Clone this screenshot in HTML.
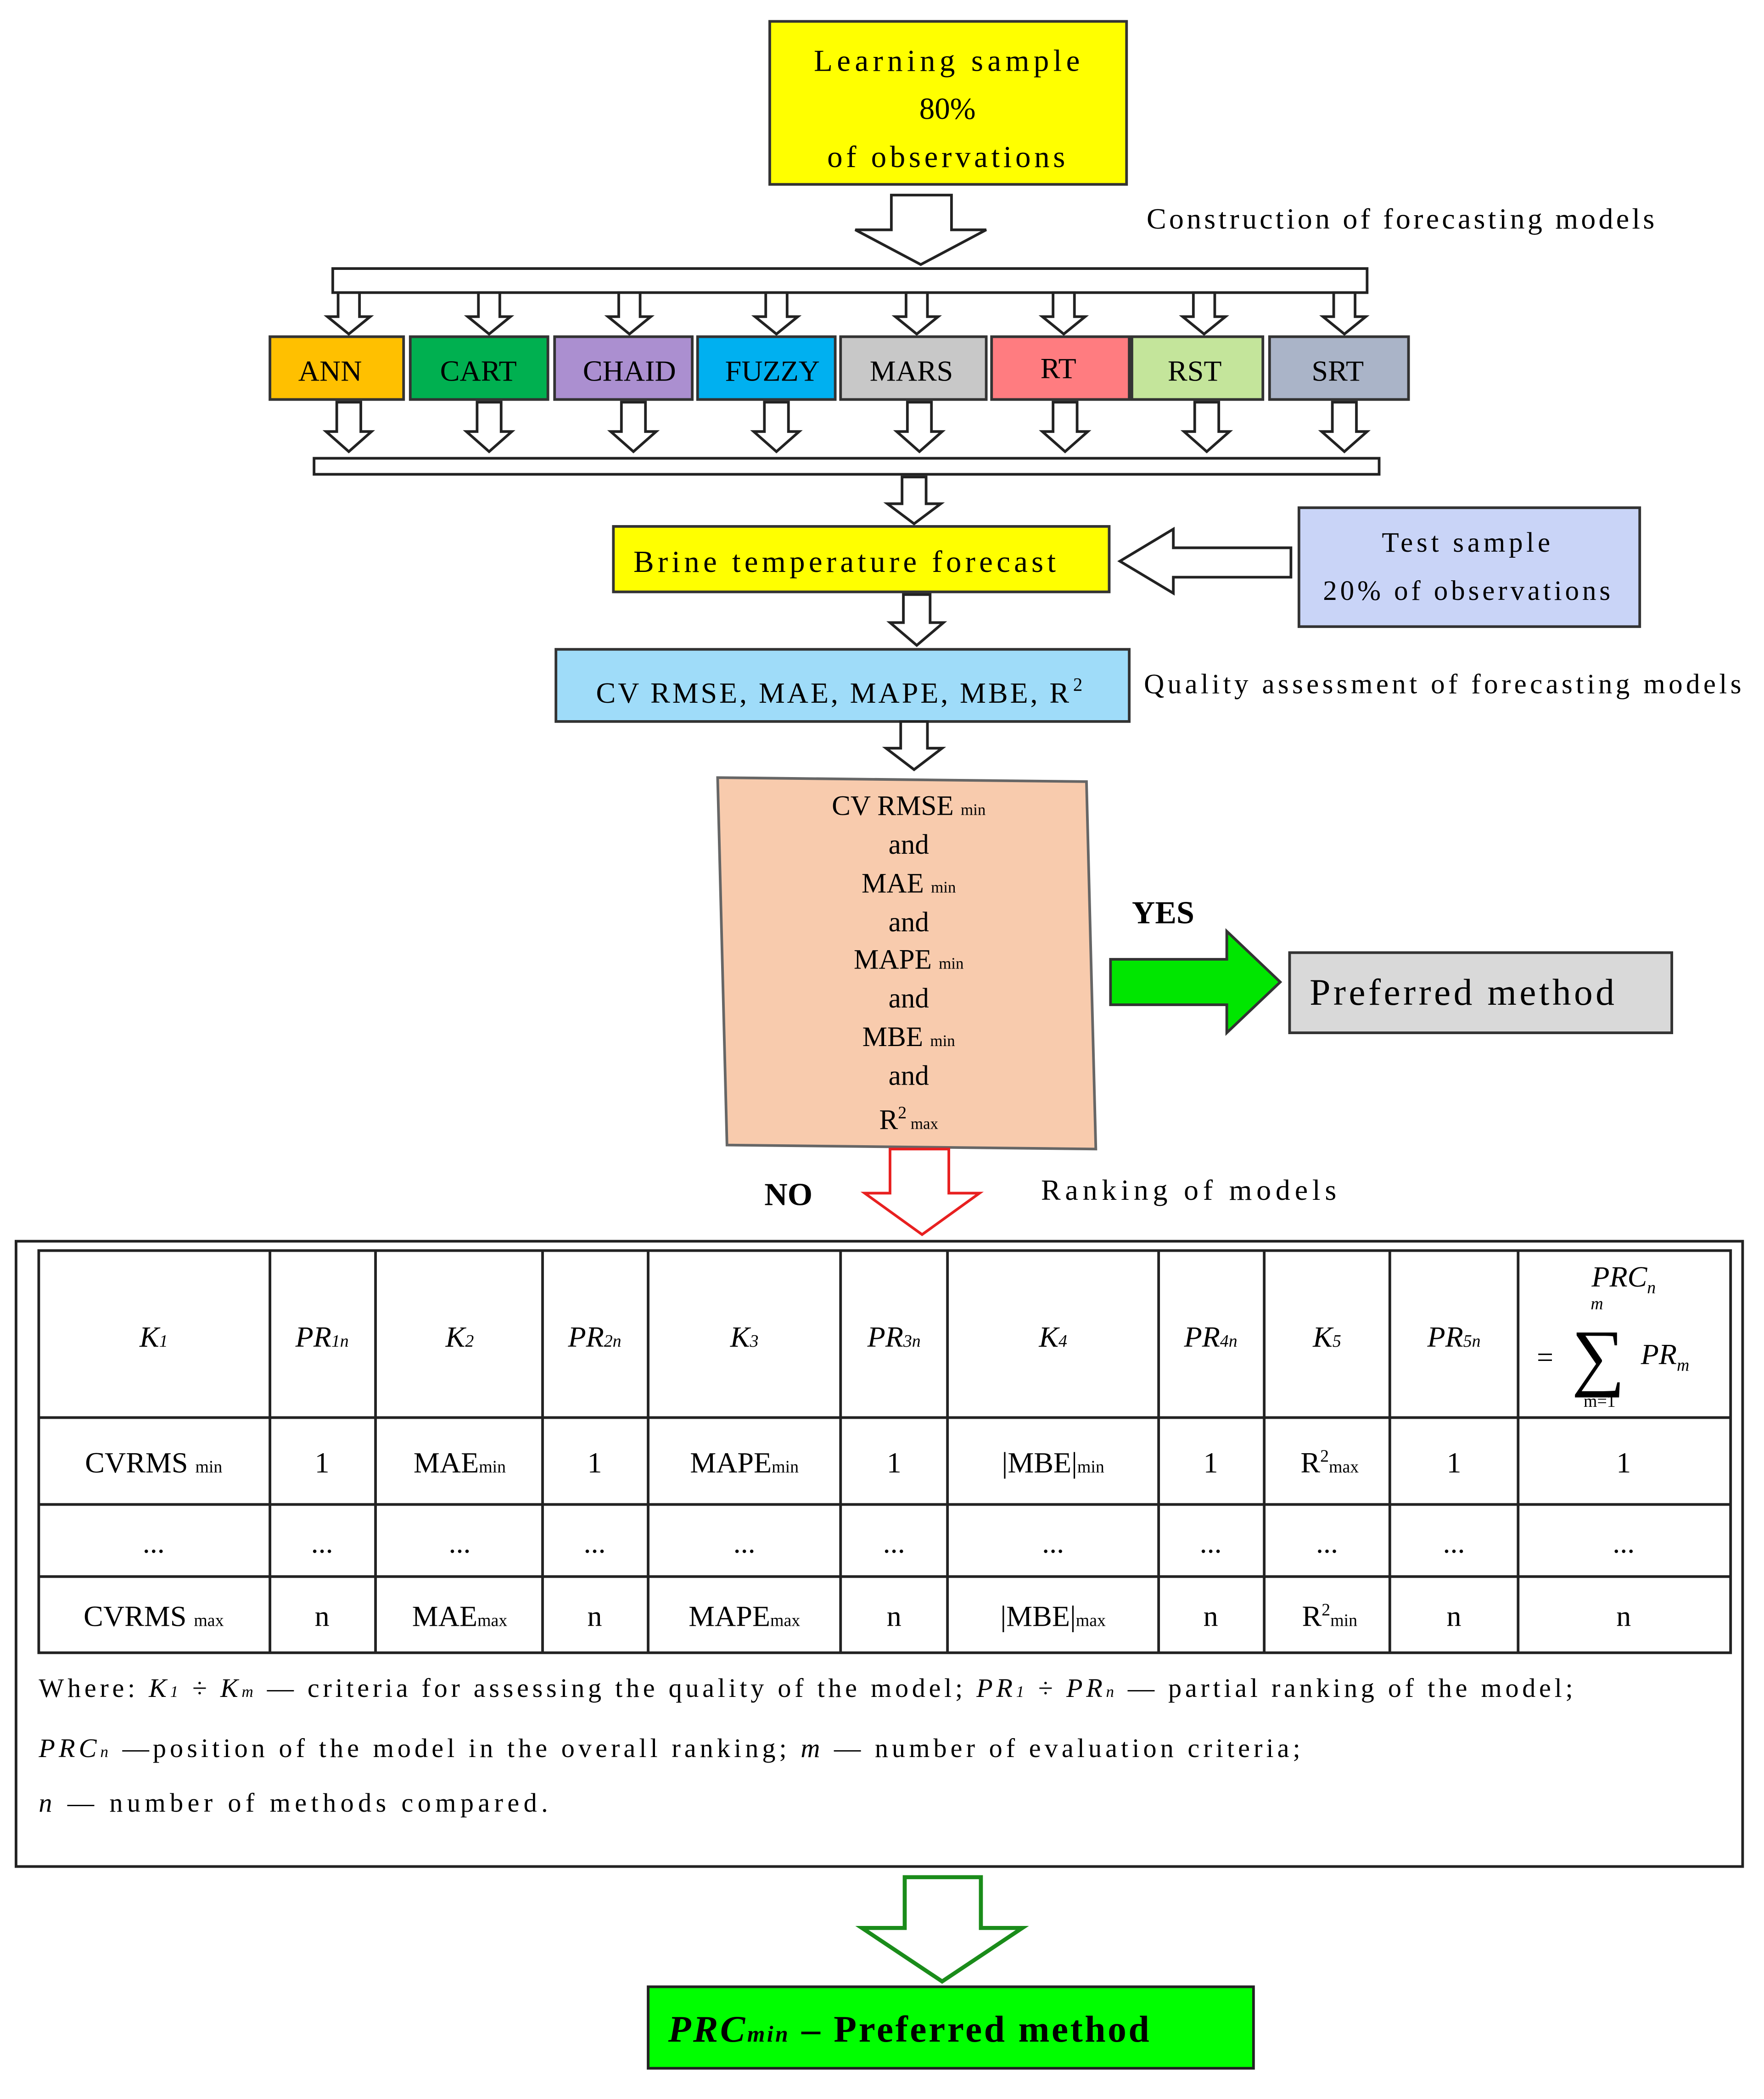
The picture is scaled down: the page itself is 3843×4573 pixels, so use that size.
<!DOCTYPE html>
<html><head><meta charset="utf-8"><style>
html,body{margin:0;padding:0;background:#fff}
svg{display:block}
text{font-family:"Liberation Serif",serif;fill:#000}
</style></head><body>
<svg width="3843" height="4573" viewBox="0 0 1320 1571" preserveAspectRatio="none" xmlns="http://www.w3.org/2000/svg">
<defs>
<path id="sa" d="M-8,0 H8 V18 H16 L0,31 L-16,18 H-8 Z" fill="#fff" stroke="#222" stroke-width="2"/>
<path id="ba" d="M-9,0 H9 V22 H17 L0,37 L-17,22 H-9 Z" fill="#fff" stroke="#222" stroke-width="2"/>
</defs>
<rect width="1320" height="1571" fill="#fff"/>
<rect x="576" y="16" width="267" height="122" fill="#ffff00" stroke="#333" stroke-width="2"/>
<g font-size="23">
<text x="609" y="53" textLength="199" lengthAdjust="spacing">Learning sample</text>
<text x="709" y="89" text-anchor="middle">80%</text>
<text x="619" y="125" textLength="178" lengthAdjust="spacing">of observations</text>
</g>
<path d="M667,146 H712 V172 H738 L689,198 L640,172 H667 Z" fill="#fff" stroke="#222" stroke-width="2"/>
<text x="858" y="171" font-size="22" textLength="380" lengthAdjust="spacing">Construction  of forecasting  models</text>
<rect x="249" y="201" width="774" height="18" fill="#fff" stroke="#222" stroke-width="2"/>
<g>
<use href="#sa" x="261" y="219"/><use href="#sa" x="366" y="219"/><use href="#sa" x="471" y="219"/><use href="#sa" x="581" y="219"/>
<use href="#sa" x="686" y="219"/><use href="#sa" x="796" y="219"/><use href="#sa" x="901" y="219"/><use href="#sa" x="1006" y="219"/>
</g>
<g stroke="#333" stroke-width="2">
<rect x="202" y="252" width="100" height="47" fill="#ffc000"/>
<rect x="307" y="252" width="103" height="47" fill="#00b050"/>
<rect x="415" y="252" width="103" height="47" fill="#ab8fd0"/>
<rect x="522" y="252" width="103" height="47" fill="#00b0f0"/>
<rect x="629" y="252" width="109" height="47" fill="#c8c8c8"/>
<rect x="742" y="252" width="103" height="47" fill="#ff7c80"/>
<rect x="847" y="252" width="98" height="47" fill="#c4e59b"/>
<rect x="950" y="252" width="104" height="47" fill="#aab4c8"/>
</g>
<g font-size="22" text-anchor="middle">
<text x="247" y="285">ANN</text><text x="358" y="285">CART</text><text x="471" y="285">CHAID</text>
<text x="578" y="285">FUZZY</text><text x="682" y="285">MARS</text><text x="792" y="283">RT</text>
<text x="894" y="285">RST</text><text x="1001" y="285">SRT</text>
</g>
<g>
<use href="#ba" x="261" y="301"/><use href="#ba" x="366" y="301"/><use href="#ba" x="474" y="301"/><use href="#ba" x="581" y="301"/>
<use href="#ba" x="688" y="301"/><use href="#ba" x="797" y="301"/><use href="#ba" x="903" y="301"/><use href="#ba" x="1006" y="301"/>
</g>
<rect x="235" y="343" width="797" height="12" fill="#fff" stroke="#222" stroke-width="2"/>
<path d="M675,357 H693 V377 H704 L684,392 L664,377 H675 Z" fill="#fff" stroke="#222" stroke-width="2"/>
<rect x="459" y="394" width="371" height="49" fill="#ffff00" stroke="#333" stroke-width="2"/>
<text x="474" y="428" font-size="23" textLength="316" lengthAdjust="spacing">Brine temperature forecast</text>
<path d="M966,410 V432 H878 V444 L838,420 L878,396 V410 Z" fill="#fff" stroke="#222" stroke-width="2"/>
<rect x="972" y="380" width="255" height="89" fill="#c9d4f7" stroke="#333" stroke-width="2"/>
<text x="1034" y="413" font-size="21" textLength="126" lengthAdjust="spacing">Test sample</text>
<text x="990" y="449" font-size="21" textLength="215" lengthAdjust="spacing">20% of observations</text>
<path d="M676,445 H696 V466 H706 L686,483 L666,466 H676 Z" fill="#fff" stroke="#222" stroke-width="2"/>
<rect x="416" y="486" width="429" height="54" fill="#9fdcf9" stroke="#333" stroke-width="2"/>
<text x="446" y="526" font-size="22" textLength="354" lengthAdjust="spacing">CV RMSE, MAE, MAPE,  MBE, R</text>
<text x="803" y="517" font-size="14">2</text>
<text x="856" y="519" font-size="21" textLength="447" lengthAdjust="spacing">Quality  assessment  of forecasting  models</text>
<path d="M674,540 H694 V560 H705 L684,576 L663,560 H674 Z" fill="#fff" stroke="#222" stroke-width="2"/>
<polygon points="537,582 813,585 820,860 544,857" fill="#f8cbad" stroke="#666" stroke-width="2"/>
<g font-size="21" text-anchor="middle">
<text x="680" y="610">CV RMSE <tspan font-size="12">min</tspan></text>
<text x="680" y="639">and</text>
<text x="680" y="668">MAE <tspan font-size="12">min</tspan></text>
<text x="680" y="697">and</text>
<text x="680" y="725">MAPE <tspan font-size="12">min</tspan></text>
<text x="680" y="754">and</text>
<text x="680" y="783">MBE <tspan font-size="12">min</tspan></text>
<text x="680" y="812">and</text>
<text x="680" y="845">R<tspan font-size="13" dy="-8">2</tspan><tspan font-size="12" dy="8"> max</tspan></text>
</g>
<text x="847" y="691" font-size="24" font-weight="bold">YES</text>
<path d="M831,718 H918 V697 L958,735 L918,773 V752 H831 Z" fill="#00e600" stroke="#333" stroke-width="2"/>
<rect x="965" y="713" width="286" height="60" fill="#d9d9d9" stroke="#333" stroke-width="2"/>
<text x="980" y="752" font-size="28" textLength="228" lengthAdjust="spacing">Preferred method</text>
<text x="572" y="902" font-size="24" font-weight="bold">NO</text>
<path d="M666,860 H710 V893 H733 L690,924 L647,893 H666 Z" fill="#fff" stroke="#e82020" stroke-width="2"/>
<text x="779" y="898" font-size="22" textLength="221" lengthAdjust="spacing">Ranking of models</text>
<rect x="12" y="929" width="1292" height="468" fill="#fff" stroke="#222" stroke-width="2"/>
<g stroke="#222" stroke-width="2" fill="none">
<rect x="29" y="936" width="1266" height="301"/>
<line x1="29" y1="1061" x2="1295" y2="1061"/><line x1="29" y1="1126" x2="1295" y2="1126"/><line x1="29" y1="1180" x2="1295" y2="1180"/>
<line x1="202" y1="936" x2="202" y2="1237"/><line x1="281" y1="936" x2="281" y2="1237"/><line x1="406" y1="936" x2="406" y2="1237"/>
<line x1="485" y1="936" x2="485" y2="1237"/><line x1="629" y1="936" x2="629" y2="1237"/><line x1="709" y1="936" x2="709" y2="1237"/>
<line x1="867" y1="936" x2="867" y2="1237"/><line x1="946" y1="936" x2="946" y2="1237"/><line x1="1040" y1="936" x2="1040" y2="1237"/>
<line x1="1136" y1="936" x2="1136" y2="1237"/>
</g>
<g font-size="22" text-anchor="middle" font-style="italic">
<text x="115" y="1008">K<tspan font-size="13">1</tspan></text>
<text x="241" y="1008">PR<tspan font-size="13">1n</tspan></text>
<text x="344" y="1008">K<tspan font-size="13">2</tspan></text>
<text x="445" y="1008">PR<tspan font-size="13">2n</tspan></text>
<text x="557" y="1008">K<tspan font-size="13">3</tspan></text>
<text x="669" y="1008">PR<tspan font-size="13">3n</tspan></text>
<text x="788" y="1008">K<tspan font-size="13">4</tspan></text>
<text x="906" y="1008">PR<tspan font-size="13">4n</tspan></text>
<text x="993" y="1008">K<tspan font-size="13">5</tspan></text>
<text x="1088" y="1008">PR<tspan font-size="13">5n</tspan></text>
<text x="1215" y="963">PRC<tspan font-size="13" dy="5">n</tspan></text>
<text x="1195" y="980" font-size="13">m</text>
<text x="1246" y="1021">PR<tspan font-size="13" dy="5">m</tspan></text>
<text x="1197" y="1053" font-size="13" font-style="normal">m=1</text>
</g>
<text x="1150" y="1023" font-size="22">=</text>
<text x="1196" y="1034" font-size="56" text-anchor="middle">∑</text>
<g font-size="22" text-anchor="middle">
<text x="115" y="1102">CVRMS <tspan font-size="13">min</tspan></text>
<text x="241" y="1102">1</text><text x="344" y="1102">MAE<tspan font-size="13">min</tspan></text>
<text x="445" y="1102">1</text><text x="557" y="1102">MAPE<tspan font-size="13">min</tspan></text>
<text x="669" y="1102">1</text><text x="788" y="1102">|MBE|<tspan font-size="13">min</tspan></text>
<text x="906" y="1102">1</text><text x="995" y="1102">R<tspan font-size="13" dy="-8">2</tspan><tspan font-size="13" dy="8">max</tspan></text>
<text x="1088" y="1102">1</text><text x="1215" y="1102">1</text>
<text x="115" y="1162">...</text><text x="241" y="1162">...</text><text x="344" y="1162">...</text>
<text x="445" y="1162">...</text><text x="557" y="1162">...</text><text x="669" y="1162">...</text>
<text x="788" y="1162">...</text><text x="906" y="1162">...</text><text x="993" y="1162">...</text>
<text x="1088" y="1162">...</text><text x="1215" y="1162">...</text>
<text x="115" y="1217">CVRMS <tspan font-size="13">max</tspan></text>
<text x="241" y="1217">n</text><text x="344" y="1217">MAE<tspan font-size="13">max</tspan></text>
<text x="445" y="1217">n</text><text x="557" y="1217">MAPE<tspan font-size="13">max</tspan></text>
<text x="669" y="1217">n</text><text x="788" y="1217">|MBE|<tspan font-size="13">max</tspan></text>
<text x="906" y="1217">n</text><text x="995" y="1217">R<tspan font-size="13" dy="-8">2</tspan><tspan font-size="13" dy="8">min</tspan></text>
<text x="1088" y="1217">n</text><text x="1215" y="1217">n</text>
</g>
<g font-size="20">
<text x="29" y="1270" textLength="1148" lengthAdjust="spacing">Where: <tspan font-style="italic">K<tspan font-size="12">1</tspan> ÷ K<tspan font-size="12">m</tspan></tspan> — criteria for assessing the quality of the model; <tspan font-style="italic">PR<tspan font-size="12">1</tspan> ÷ PR<tspan font-size="12">n</tspan></tspan> — partial ranking of the model;</text>
<text x="29" y="1315" textLength="944" lengthAdjust="spacing"><tspan font-style="italic">PRC<tspan font-size="12">n</tspan></tspan> —position  of the model in the overall ranking; <tspan font-style="italic">m</tspan> — number of evaluation criteria;</text>
<text x="29" y="1356" textLength="381" lengthAdjust="spacing"><tspan font-style="italic">n</tspan> — number of methods compared.</text>
</g>
<path d="M677,1405 H734 V1443 H765 L705,1483 L645,1443 H677 Z" fill="#fff" stroke="#1a8c1a" stroke-width="3"/>
<rect x="485" y="1487" width="453" height="61" fill="#00ff00" stroke="#222" stroke-width="2"/>
<text x="500" y="1528" font-size="28" font-weight="bold" textLength="360" lengthAdjust="spacing"><tspan font-style="italic">PRC<tspan font-size="17">min</tspan></tspan> – Preferred method</text>
</svg>
</body></html>
